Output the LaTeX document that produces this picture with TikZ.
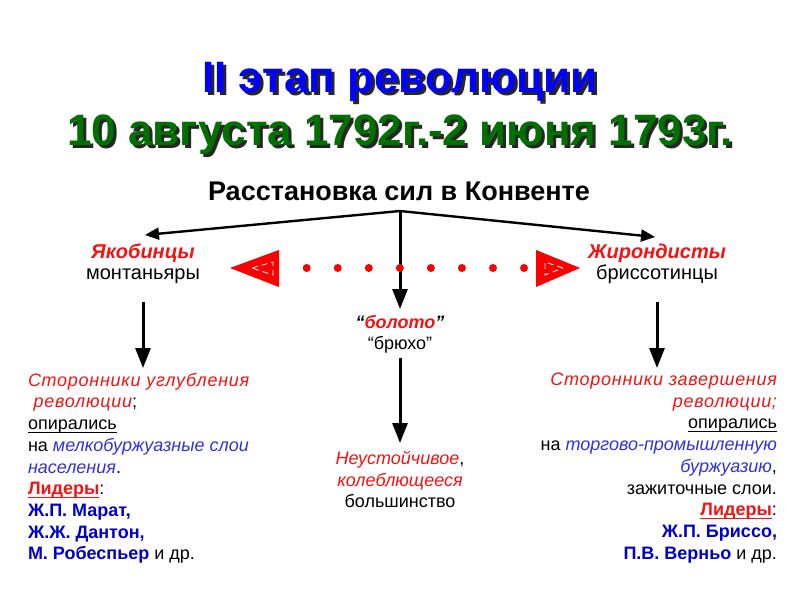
\documentclass[tikz,border=0pt]{standalone}
\usepackage{fontspec}
\setmainfont{Liberation Sans}
\usetikzlibrary{arrows.meta,positioning}

\definecolor{titleblue}{RGB}{0,0,255}
\definecolor{titlegreen}{RGB}{0,112,0}
\definecolor{redtxt}{RGB}{240,20,20}
\definecolor{bluetxt}{RGB}{50,50,220}
\definecolor{boldblue}{RGB}{0,0,205}
\definecolor{flagred}{RGB}{250,0,0}

\newcommand{\lineunder}[1]{\underline{\smash{#1}}}
\newcommand{\widered}[1]{{\color{redtxt}\itshape\addfontfeature{LetterSpace=4}#1}}

\begin{document}
\begin{tikzpicture}[
    x=0.5pt, y=-0.5pt,
    every node/.style={inner sep=0pt, outer sep=0pt},
    body/.style={font=\fontsize{9}{10.85}\selectfont},
    party/.style={font=\fontsize{10}{10.5}\selectfont, align=center, anchor=north},
    bigtitle/.style={font=\fontsize{22}{26}\selectfont\bfseries, anchor=base},
    link/.style={draw=black, line width=1.5pt, -{Triangle[length=10pt, width=7.5pt]}},
    thinlink/.style={draw=black, line width=1.2pt, -{Triangle[length=7pt, width=6pt]}},
]

\def\dotgap{31.05}  % spacing of the red dots

\useasboundingbox[fill=white] (0,0) rectangle (800,600);

% ── Title (with dark shadow) ─────────────────────────────────────────────────
\node[bigtitle, text=black!85] at (403, 95) {II этап революции};
\node[bigtitle, text=titleblue] (title) at (400, 92) {II этап революции};
\node[bigtitle, text=black!85] at (403, 148) {10 августа 1792г.-2 июня 1793г.};
\node[bigtitle, text=titlegreen] (dates) at (400, 145) {10 августа 1792г.-2 июня 1793г.};

% ── Heading ──────────────────────────────────────────────────────────────────
\node[font=\fontsize{13.5}{16}\selectfont\bfseries, anchor=base] (forces) at (399, 200)
    {Расстановка сил в Конвенте};
\coordinate (split) at (400, 211);

% ── Three groups ─────────────────────────────────────────────────────────────
\node[party] (jacob) at (143, 244)
    {{\color{redtxt}\bfseries\itshape Якобинцы}\\монтаньяры};
\node[party] (giron) at (657, 244)
    {{\color{redtxt}\bfseries\itshape Жирондисты}\\бриссотинцы};
\node[body, align=center, anchor=north] (swamp) at (400, 315)
    {{\bfseries\itshape “{\color{redtxt}болото}”}\\“брюхо”};

% ── Arrows from the heading ──────────────────────────────────────────────────
\draw[thinlink] (split) -- ([xshift=1pt, yshift=4.5pt]jacob.north);
\draw[thinlink] (split) -- ([xshift=-1pt, yshift=3.5pt]giron.north);
\draw[link, shorten >=3pt] (split) -- (swamp.north);

% ── Red dotted line between the two flanks ───────────────────────────────────
\fill[flagred] (230,268) -- (279,250) -- (279,287) -- cycle;
\draw[white, densely dashed, line width=0.4pt] (252,268) -- (273,262) -- (273,275) -- cycle;
\fill[flagred] (580,268) -- (536,250) -- (536,287) -- cycle;
\draw[white, densely dashed, line width=0.4pt] (563,268) -- (545,262) -- (545,275) -- cycle;
\foreach \i in {0,...,7} {
    \fill[flagred] ({306.7+\i*\dotgap}, 268) circle (4);
}

% ── Descriptions ─────────────────────────────────────────────────────────────
\node[body, align=left, anchor=north west] (left) at (28, 373)
    {\widered{Сторонники углубления}\\
     \widered{\ революции};\\
     \lineunder{опирались}\\
     на {\color{bluetxt}\itshape мелкобуржуазные слои}\\
     {\color{bluetxt}\itshape населения}.\\
     {\color{redtxt}\bfseries\lineunder{Лидеры}}:\\
     {\color{boldblue}\bfseries Ж.П. Марат,}\\
     {\color{boldblue}\bfseries Ж.Ж. Дантон,}\\
     {\color{boldblue}\bfseries М. Робеспьер} и др.};
\node[body, align=right, anchor=north east] (right) at (777, 373)
    {\widered{Сторонники завершения}\\
     \widered{революции;}\\
     \lineunder{опирались}\\
     на {\color{bluetxt}\itshape торгово-промышленную}\\
     {\color{bluetxt}\itshape буржуазию},\\
     зажиточные слои.\\
     {\color{redtxt}\bfseries\lineunder{Лидеры}}:\\
     {\color{boldblue}\bfseries Ж.П. Бриссо,}\\
     {\color{boldblue}\bfseries П.В. Верньо} и др.};
\node[body, align=center, anchor=north] (bulk) at (400, 451)
    {{\color{redtxt}\itshape Неустойчивое},\\
     {\color{redtxt}\itshape колеблющееся}\\
     большинство};

% ── Arrows down ──────────────────────────────────────────────────────────────
\draw[link, shorten <=9pt, shorten >=2.5pt] (jacob.south) -- (left.north -| jacob.south);
\draw[link, shorten <=9pt, shorten >=2.5pt] (giron.south) -- (right.north -| giron.south);
\draw[link, shorten <=2pt, shorten >=4pt] (swamp.south) -- (bulk.north);

\end{tikzpicture}
\end{document}
